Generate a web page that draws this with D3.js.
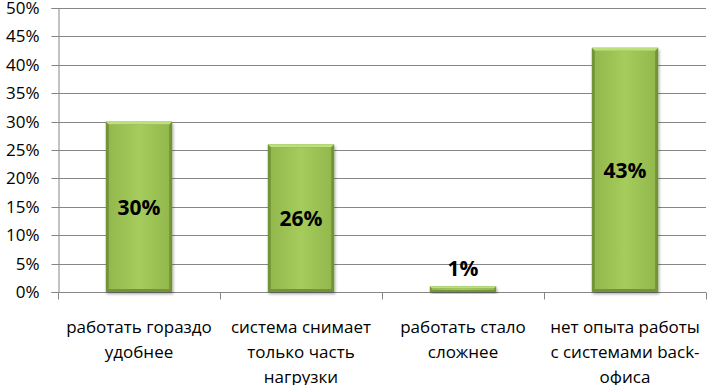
<!DOCTYPE html>
<html><head><meta charset="utf-8">
<script src="https://cdn.jsdelivr.net/npm/d3@7"></script>
<style>body{margin:0;background:#fff}svg{display:block}</style>
</head><body>
<script>
const categories = [
  ["работать гораздо", "удобнее"],
  ["система снимает", "только часть", "нагрузки"],
  ["работать стало", "сложнее"],
  ["нет опыта работы", "с системами back-", "офиса"]
];
const values = [30, 26, 1, 43];
const valueLabels = ["30%", "26%", "1%", "43%"];
const yTicks = [0, 5, 10, 15, 20, 25, 30, 35, 40, 45, 50];

const W = 709, H = 385;
const m = {left: 58, right: 3, top: 8, bottom: 93};
const svg = d3.select("body").append("svg").attr("width", W).attr("height", H);
const font = "'Open Sans', sans-serif";

const x = d3.scaleBand().domain(d3.range(values.length)).range([m.left, W - m.right]).paddingInner(0).paddingOuter(0);
const y = d3.scaleLinear().domain([0, 50]).range([H - m.bottom, m.top]);

const defs = svg.append("defs");
const g1 = defs.append("linearGradient").attr("id", "barg").attr("x1", 0).attr("x2", 1).attr("y1", 0).attr("y2", 0);
g1.append("stop").attr("offset", "0%").attr("stop-color", "#93b84d");
g1.append("stop").attr("offset", "50%").attr("stop-color", "#a5cc5c");
g1.append("stop").attr("offset", "100%").attr("stop-color", "#93b84d");
const f = defs.append("filter").attr("id", "sh").attr("x", "-20%").attr("y", "-20%").attr("width", "150%").attr("height", "150%");
f.append("feDropShadow").attr("dx", 1).attr("dy", 2).attr("stdDeviation", 1.5).attr("flood-color", "#000").attr("flood-opacity", 0.35);

// gridlines
svg.append("g").selectAll("line").data(yTicks.slice(1)).join("line")
  .attr("x1", m.left).attr("x2", W - m.right)
  .attr("y1", d => Math.round(y(d)) + 0.5).attr("y2", d => Math.round(y(d)) + 0.5)
  .attr("stroke", "#868686").attr("stroke-width", 1);

// y axis
const yAxis = svg.append("g").attr("transform", `translate(${m.left + 0.5},0)`)
  .call(d3.axisLeft(y).tickValues(yTicks).tickFormat(d => d + "%").tickSizeOuter(0).tickSize(7).tickPadding(12));
yAxis.select(".domain").attr("stroke", "#868686");
yAxis.selectAll(".tick line").attr("stroke", "#868686");
yAxis.selectAll(".tick text").attr("font-family", font).attr("font-size", 17).attr("fill", "#000").attr("dy", "0.34em");
yAxis.selectAll(".tick").attr("transform", d => `translate(0,${Math.round(y(d)) + 0.5})`);

// x axis
const xAxis = svg.append("g").attr("transform", `translate(0,${Math.round(y(0)) + 0.5})`);
xAxis.append("line").attr("x1", m.left).attr("x2", W - m.right).attr("stroke", "#868686");
const bounds = d3.range(values.length + 1).map(i => i < values.length ? x(i) : x(values.length - 1) + x.bandwidth());
xAxis.selectAll(".tk").data(bounds).join("line").attr("class", "tk")
  .attr("x1", d => Math.round(d) + 0.5).attr("x2", d => Math.round(d) + 0.5)
  .attr("y1", 0).attr("y2", 7).attr("stroke", "#868686");

// bars
const bw = x.bandwidth() * 0.41;
const bars = svg.append("g").selectAll("g").data(values).join("g");
const bev = d => Math.min(3, (y(0) - y(d)) / 3);
bars.append("rect")
  .attr("x", (d, i) => x(i) + (x.bandwidth() - bw) / 2)
  .attr("y", d => y(d)).attr("width", bw).attr("height", d => y(0) - y(d))
  .attr("fill", "#739337").attr("filter", "url(#sh)");
bars.append("rect")
  .attr("x", (d, i) => x(i) + (x.bandwidth() - bw) / 2 + bev(d))
  .attr("y", d => y(d) + bev(d))
  .attr("width", d => bw - 2 * bev(d))
  .attr("height", d => (y(0) - y(d)) - 2 * bev(d))
  .attr("fill", "url(#barg)");
bars.append("path")
  .attr("d", (d, i) => {
    const x0 = x(i) + (x.bandwidth() - bw) / 2, t = y(d), b = bev(d);
    return `M${x0},${t}L${x0 + bw},${t}L${x0 + bw - b},${t + b}L${x0 + b},${t + b}Z`;
  })
  .attr("fill", "#bde07a");

// value labels
svg.append("g").selectAll("text").data(values).join("text")
  .attr("x", (d, i) => x(i) + x.bandwidth() / 2)
  .attr("y", d => d < 5 ? y(d) - 10 : (y(d) + y(0)) / 2 + 8)
  .attr("text-anchor", "middle").attr("font-family", font).attr("font-weight", "bold")
  .attr("font-size", 21).attr("fill", "#000")
  .text((d, i) => valueLabels[i]);

// category labels
const cl = svg.append("g").selectAll("text").data(categories).join("text")
  .attr("x", (d, i) => x(i) + x.bandwidth() / 2)
  .attr("y", 333).attr("text-anchor", "middle").attr("font-family", font)
  .attr("font-size", 17).attr("fill", "#000");
cl.selectAll("tspan").data(d => d).join("tspan")
  .attr("x", function() { return d3.select(this.parentNode).attr("x"); })
  .attr("dy", (d, i) => i === 0 ? 0 : 25)
  .text(d => d);
</script>
</body></html>
